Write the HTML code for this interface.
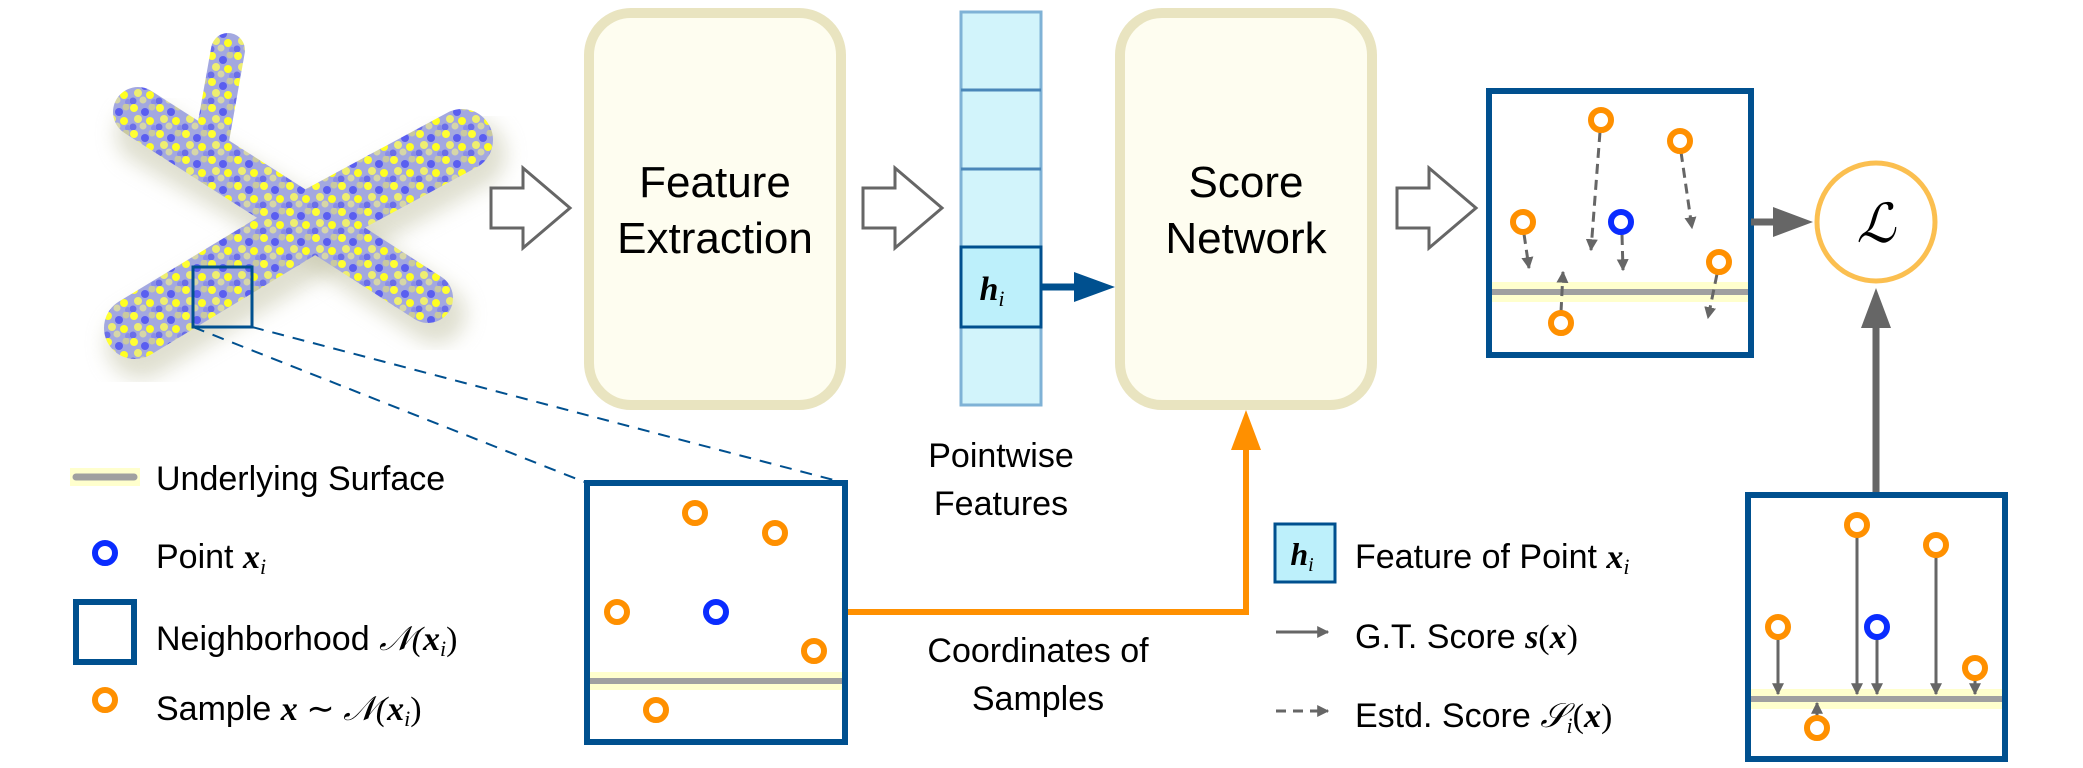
<!DOCTYPE html>
<html><head><meta charset="utf-8"><style>
html,body{margin:0;padding:0;background:#fff;}
svg text{font-family:"Liberation Sans",sans-serif;fill:#000;}
.m{font-family:"Liberation Serif",serif;font-style:italic;font-weight:bold;}
.mr{font-family:"Liberation Serif",serif;}
</style></head><body>
<svg width="2083" height="763" viewBox="0 0 2083 763" xmlns="http://www.w3.org/2000/svg">
<defs>
<pattern id="pc" width="26" height="26" patternUnits="userSpaceOnUse">
<rect width="26" height="26" fill="#a3a8e0"/>
<circle cx="4" cy="4" r="4" fill="#ffff33"/><circle cx="15" cy="8" r="4" fill="#5a5ef0"/>
<circle cx="22" cy="3" r="3.5" fill="#c9c9a0"/><circle cx="8" cy="15" r="4" fill="#eeee70"/>
<circle cx="20" cy="17" r="4" fill="#ffff22"/><circle cx="3" cy="23" r="3.5" fill="#6a6ee8"/>
<circle cx="13" cy="22" r="3.5" fill="#d6d6a8"/><circle cx="24" cy="24" r="3" fill="#8a8ee8"/>
</pattern>
<filter id="bl" x="-20%" y="-20%" width="140%" height="140%"><feGaussianBlur stdDeviation="10"/></filter>
<marker id="ah" viewBox="0 0 10 10" refX="9" refY="5" markerWidth="4" markerHeight="4" orient="auto"><path d="M0,0L10,5L0,10z" fill="#666"/></marker>
</defs>

<!-- airplane -->
<g stroke-linecap="round" fill="none">
<path d="M135,330 L315,222 L465,140" stroke="#bfbfa0" stroke-width="70" filter="url(#bl)" opacity="0.5" transform="translate(6,14)"/>
<path d="M140,120 L310,220 L430,300" stroke="#bfbfa0" stroke-width="60" filter="url(#bl)" opacity="0.5" transform="translate(6,14)"/>
<path d="M135,328 L310,222 L462,140" stroke="url(#pc)" stroke-width="62"/>
<path d="M138,112 L310,222 L428,298" stroke="url(#pc)" stroke-width="50"/>
<path d="M228,50 L212,140" stroke="url(#pc)" stroke-width="34"/>
</g>
<rect x="193" y="267" width="59" height="60" fill="none" stroke="#00508f" stroke-width="3"/>
<line x1="193" y1="327" x2="587" y2="483" stroke="#00508f" stroke-width="2" stroke-dasharray="12,9"/>
<line x1="252" y1="327" x2="845" y2="483" stroke="#00508f" stroke-width="2" stroke-dasharray="12,9"/>

<!-- hollow arrows -->
<g fill="#fff" stroke="#666" stroke-width="3">
<path d="M491,188 H523 V168 L570,208 L523,248 V228 H491 Z"/>
<path d="M863,188 H895 V168 L942,208 L895,248 V228 H863 Z"/>
<path d="M1397,188 H1429 V168 L1476,208 L1429,248 V228 H1397 Z"/>
</g>

<!-- boxes -->
<rect x="589" y="13" width="252" height="392" rx="42" fill="#fefdf0" stroke="#e9e4c0" stroke-width="10"/>
<rect x="1120" y="13" width="252" height="392" rx="42" fill="#fefdf0" stroke="#e9e4c0" stroke-width="10"/>
<text x="715" y="197" font-size="44" text-anchor="middle">Feature</text>
<text x="715" y="253" font-size="44" text-anchor="middle">Extraction</text>
<text x="1246" y="197" font-size="44" text-anchor="middle">Score</text>
<text x="1246" y="253" font-size="44" text-anchor="middle">Network</text>

<!-- feature column -->
<rect x="961" y="12" width="80" height="393" fill="#d2f4fb" stroke="#7fb2d6" stroke-width="3"/>
<g stroke="#4a86b8" stroke-width="3"><line x1="961" y1="90" x2="1041" y2="90"/><line x1="961" y1="169" x2="1041" y2="169"/></g>
<rect x="961" y="247" width="80" height="80" fill="#bdf0fb" stroke="#00508f" stroke-width="3"/>
<text x="992" y="300" class="m" font-size="34" text-anchor="middle">h<tspan font-size="22" dy="6" font-weight="normal">i</tspan></text>
<line x1="1041" y1="287" x2="1085" y2="287" stroke="#00508f" stroke-width="7"/>
<path d="M1074,272 L1115,287 L1074,302 Z" fill="#00508f"/>

<text x="1001" y="467" font-size="34" text-anchor="middle">Pointwise</text>
<text x="1001" y="515" font-size="34" text-anchor="middle">Features</text>
<text x="1038" y="662" font-size="34" text-anchor="middle">Coordinates of</text>
<text x="1038" y="710" font-size="34" text-anchor="middle">Samples</text>

<!-- orange path -->
<path d="M845,612 H1246 V445" fill="none" stroke="#ff9000" stroke-width="6"/>
<path d="M1231,450 L1246,410 L1261,450 Z" fill="#ff9000"/>

<!-- middle box -->
<rect x="587" y="483" width="258" height="259" fill="#fff" stroke="#00508f" stroke-width="6"/>
<rect x="590" y="672" width="252" height="18" fill="#ffffc0" opacity="0.8"/>
<line x1="590" y1="681" x2="842" y2="681" stroke="#a0a0a0" stroke-width="6"/>
<g fill="none" stroke-width="6">
<circle cx="695" cy="513" r="10" stroke="#ff9000"/><circle cx="775" cy="533" r="10" stroke="#ff9000"/>
<circle cx="617" cy="612" r="10" stroke="#ff9000"/><circle cx="716" cy="612" r="10" stroke="#0a2cff"/>
<circle cx="814" cy="651" r="10" stroke="#ff9000"/><circle cx="656" cy="710" r="10" stroke="#ff9000"/>
</g>

<!-- left legend -->
<rect x="70" y="468" width="70" height="18" fill="#ffffc0" opacity="0.8"/>
<line x1="76" y1="477" x2="134" y2="477" stroke="#a0a0a0" stroke-width="7" stroke-linecap="round"/>
<text x="156" y="490" font-size="34">Underlying Surface</text>
<circle cx="105" cy="553" r="10" fill="none" stroke="#0a2cff" stroke-width="6"/>
<text x="156" y="568" font-size="34">Point <tspan class="m">x</tspan><tspan class="mr" font-style="italic" font-size="22" dy="6">i</tspan></text>
<rect x="76" y="602" width="58" height="60" fill="none" stroke="#00508f" stroke-width="6"/>
<text x="156" y="650" font-size="34">Neighborhood <tspan class="mr" font-style="italic">𝒩(</tspan><tspan class="m">x</tspan><tspan class="mr" font-style="italic" font-size="22" dy="6">i</tspan><tspan class="mr" dy="-6">)</tspan></text>
<circle cx="105" cy="700" r="10" fill="none" stroke="#ff9000" stroke-width="6"/>
<text x="156" y="720" font-size="34">Sample <tspan class="m">x</tspan><tspan class="mr"> ∼ </tspan><tspan class="mr" font-style="italic">𝒩(</tspan><tspan class="m">x</tspan><tspan class="mr" font-style="italic" font-size="22" dy="6">i</tspan><tspan class="mr" dy="-6">)</tspan></text>

<!-- right legend -->
<rect x="1275" y="524" width="60" height="58" fill="#bdf0fb" stroke="#00508f" stroke-width="3"/>
<text x="1302" y="565" class="m" font-size="32" text-anchor="middle">h<tspan font-size="20" dy="6" font-weight="normal">i</tspan></text>
<text x="1355" y="568" font-size="34">Feature of Point <tspan class="m">x</tspan><tspan class="mr" font-style="italic" font-size="22" dy="6">i</tspan></text>
<line x1="1276" y1="632" x2="1328" y2="632" stroke="#666" stroke-width="3" marker-end="url(#ah)"/>
<text x="1355" y="648" font-size="34">G.T. Score <tspan class="m">s</tspan><tspan class="mr">(</tspan><tspan class="m">x</tspan><tspan class="mr">)</tspan></text>
<line x1="1276" y1="711" x2="1328" y2="711" stroke="#666" stroke-width="3" stroke-dasharray="10,7" marker-end="url(#ah)"/>
<text x="1355" y="727" font-size="34">Estd. Score <tspan class="mr" font-style="italic">𝒮</tspan><tspan class="mr" font-style="italic" font-size="22" dy="6">i</tspan><tspan class="mr" dy="-6">(</tspan><tspan class="m">x</tspan><tspan class="mr">)</tspan></text>

<!-- top right box -->
<rect x="1489" y="91" width="262" height="264" fill="#fff" stroke="#00508f" stroke-width="6"/>
<rect x="1492" y="282" width="256" height="20" fill="#ffffc0" opacity="0.8"/>
<line x1="1492" y1="292" x2="1748" y2="292" stroke="#a0a0a0" stroke-width="6"/>
<g stroke="#666" stroke-width="3" stroke-dasharray="10,6" marker-end="url(#ah)">
<line x1="1600" y1="132" x2="1591" y2="250"/><line x1="1681" y1="152" x2="1692" y2="228"/>
<line x1="1524" y1="234" x2="1529" y2="268"/><line x1="1622" y1="235" x2="1623" y2="270"/>
<line x1="1561" y1="312" x2="1563" y2="272"/><line x1="1717" y1="274" x2="1708" y2="318"/>
</g>
<g fill="#fff" stroke-width="6">
<circle cx="1601" cy="120" r="10" stroke="#ff9000"/><circle cx="1680" cy="141" r="10" stroke="#ff9000"/>
<circle cx="1523" cy="222" r="10" stroke="#ff9000"/><circle cx="1621" cy="222" r="10" stroke="#0a2cff"/>
<circle cx="1719" cy="262" r="10" stroke="#ff9000"/><circle cx="1561" cy="323" r="10" stroke="#ff9000"/>
</g>

<!-- loss -->
<circle cx="1876" cy="222" r="59" fill="#fff" stroke="#fbbf50" stroke-width="5"/>
<text x="1876" y="242" class="mr" font-style="italic" font-size="54" text-anchor="middle">ℒ</text>
<line x1="1751" y1="222" x2="1780" y2="222" stroke="#666" stroke-width="7"/>
<path d="M1773,207 L1813,222 L1773,237 Z" fill="#666"/>
<line x1="1876" y1="495" x2="1876" y2="310" stroke="#666" stroke-width="7"/>
<path d="M1861,328 L1876,288 L1891,328 Z" fill="#666"/>

<!-- bottom right box -->
<rect x="1748" y="495" width="257" height="264" fill="#fff" stroke="#00508f" stroke-width="6"/>
<rect x="1751" y="689" width="251" height="20" fill="#ffffc0" opacity="0.8"/>
<line x1="1751" y1="699" x2="2002" y2="699" stroke="#a0a0a0" stroke-width="6"/>
<g stroke="#666" stroke-width="3" marker-end="url(#ah)">
<line x1="1857" y1="535" x2="1857" y2="694"/><line x1="1936" y1="555" x2="1936" y2="694"/>
<line x1="1778" y1="637" x2="1778" y2="694"/><line x1="1877" y1="637" x2="1877" y2="694"/>
<line x1="1975" y1="676" x2="1975" y2="694"/><line x1="1817" y1="720" x2="1817" y2="703"/>
</g>
<g fill="#fff" stroke-width="6">
<circle cx="1857" cy="525" r="10" stroke="#ff9000"/><circle cx="1936" cy="545" r="10" stroke="#ff9000"/>
<circle cx="1778" cy="627" r="10" stroke="#ff9000"/><circle cx="1877" cy="627" r="10" stroke="#0a2cff"/>
<circle cx="1975" cy="668" r="10" stroke="#ff9000"/><circle cx="1817" cy="728" r="10" stroke="#ff9000"/>
</g>
</svg>
</body></html>
